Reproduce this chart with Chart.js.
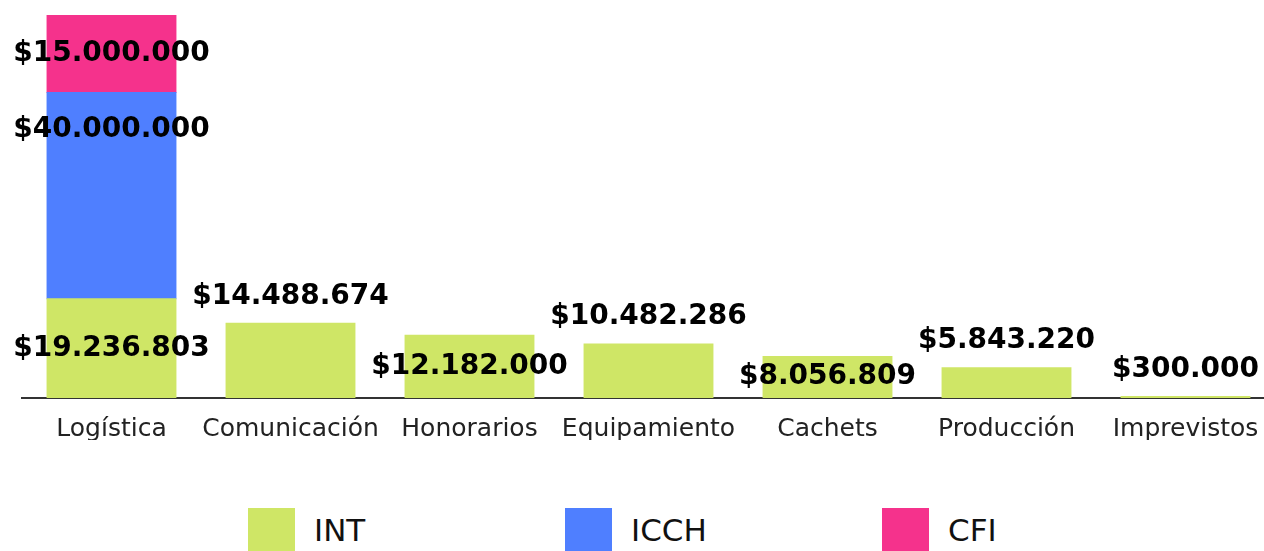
<!DOCTYPE html>
<html lang="es">
<head>
    <meta charset="UTF-8">
    <title>Presupuesto por ítem</title>
    <style>
        body {
            margin: 0;
            background: #fff;
            overflow: hidden;
            font-family: 'DejaVu Sans', sans-serif;
        }
        .chart-box {
            position: relative;
            width: 1275px;
            height: 440px;
        }
        .legend {
            position: absolute;
            left: 248px;
            top: 508px;
            display: flex;
        }
        .legend-item {
            width: 317px;
            display: flex;
            align-items: center;
        }
        .legend-item span.box {
            width: 47px;
            height: 43px;
            margin-right: 19px;
        }
        .legend-item span.txt {
            font-size: 31px;
            color: #111;
        }
    </style>
    <script src="https://cdn.jsdelivr.net/npm/chart.js"></script>
</head>
<body>
    <div class="chart-box">
        <canvas id="budgetChart"></canvas>
    </div>
    <div class="legend" id="legend"></div>

    <script>
        const categories = ['Logística', 'Comunicación', 'Honorarios', 'Equipamiento', 'Cachets', 'Producción', 'Imprevistos'];
        const intValues = [19236803, 14488674, 12182000, 10482286, 8056809, 5843220, 300000];
        const icchValues = [40000000, null, null, null, null, null, null];
        const cfiValues = [15000000, null, null, null, null, null, null];

        // where each value label sits: center of bar, above the bar, or near bar top
        const intLabelPos = ['center', 'end', 'center', 'end', 'center', 'end', 'end'];
        const icchLabelPos = ['top'];
        const cfiLabelPos = ['center'];

        const formatMoney = v => '$' + Math.round(v).toString().replace(/\B(?=(\d{3})+(?!\d))/g, '.');

        const totals = categories.map((c, i) => (intValues[i] || 0) + (icchValues[i] || 0) + (cfiValues[i] || 0));

        // draw value labels on top of the bars
        const valueLabels = {
            id: 'valueLabels',
            afterDatasetsDraw(chart) {
                const ctx = chart.ctx;
                ctx.save();
                ctx.font = 'bold 28px "DejaVu Sans", sans-serif';
                ctx.fillStyle = '#000';
                ctx.textAlign = 'center';
                ctx.textBaseline = 'middle';
                chart.data.datasets.forEach((ds, di) => {
                    const meta = chart.getDatasetMeta(di);
                    meta.data.forEach((bar, i) => {
                        const v = ds.data[i];
                        if (v == null) return;
                        const pos = ds.labelPos[i] || 'center';
                        let y;
                        if (pos === 'center') y = (bar.y + bar.base) / 2;
                        else if (pos === 'end') y = bar.y - 27;
                        else y = bar.y + 37;
                        ctx.fillText(formatMoney(v), bar.x, y);
                    });
                });
                ctx.restore();
            }
        };

        const datasets = [
            { label: 'INT', data: intValues, backgroundColor: '#cfe666', labelPos: intLabelPos },
            { label: 'ICCH', data: icchValues, backgroundColor: '#4f7fff', labelPos: icchLabelPos },
            { label: 'CFI', data: cfiValues, backgroundColor: '#f5328c', labelPos: cfiLabelPos }
        ];

        new Chart(document.getElementById('budgetChart'), {
            type: 'bar',
            data: { labels: categories, datasets: datasets },
            plugins: [valueLabels],
            options: {
                responsive: true,
                maintainAspectRatio: false,
                animation: false,
                datasets: {
                    bar: { barPercentage: 0.72, categoryPercentage: 1, inflateAmount: 0.5 }
                },
                layout: { padding: { left: 22, top: 15, right: 0, bottom: 0 } },
                plugins: {
                    legend: { display: false },
                    tooltip: { enabled: false }
                },
                scales: {
                    x: {
                        stacked: true,
                        grid: { display: false },
                        border: { display: true, color: '#333', width: 2 },
                        ticks: {
                            color: '#222',
                            padding: 8,
                            maxRotation: 0,
                            minRotation: 0,
                            autoSkip: false,
                            font: { family: 'DejaVu Sans', size: 25 }
                        },
                        afterFit(scale) { scale.height = 42; }
                    },
                    y: {
                        stacked: true,
                        display: false,
                        min: 0,
                        max: Math.max(...totals)
                    }
                }
            }
        });

        // legend below the chart
        const legend = document.getElementById('legend');
        datasets.forEach(ds => {
            const item = document.createElement('div');
            item.className = 'legend-item';
            item.innerHTML = `<span class="box" style="background:${ds.backgroundColor}"></span><span class="txt">${ds.label}</span>`;
            legend.appendChild(item);
        });
    </script>
</body>
</html>
